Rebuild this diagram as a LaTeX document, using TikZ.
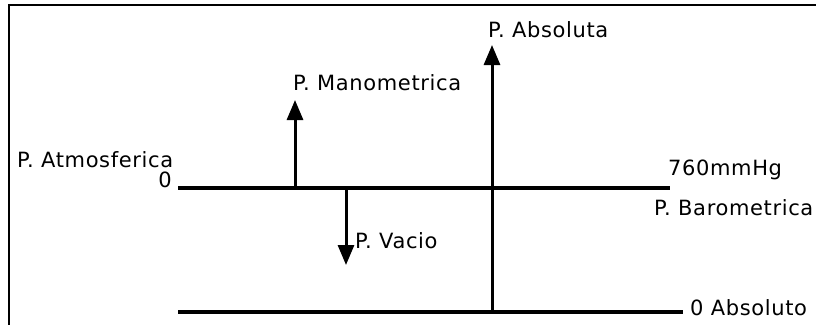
\documentclass[tikz,border=0pt]{standalone}
\usepackage{fontspec}
\setmainfont[LetterSpace=3]{DejaVu Sans}
\usetikzlibrary{arrows.meta}

\begin{document}
\begin{tikzpicture}[x=1pt,y=-1pt,
    lbl/.style={inner sep=0pt,anchor=base west,font=\fontsize{21}{25}\selectfont},
    linea/.style={line width=3.2pt},
    flecha/.style={line width=3pt,-{Triangle[width=16pt,length=20pt]}}]
  \useasboundingbox (0,0) rectangle (816,324);

  % marco (solo lados izquierdo y superior)
  \draw[line width=1.8pt] (9,330) -- (9,5) -- (820,5);

  % nivel atmosferico y cero absoluto
  \coordinate (A0) at (178,188);
  \coordinate (A1) at (670,188);
  \coordinate (B0) at (178,312);
  \coordinate (B1) at (683,312);

  % flechas de presion
  \coordinate (M0) at (295,188); % manometrica
  \coordinate (M1) at (295,100);
  \coordinate (V0) at (346,188); % vacio
  \coordinate (V1) at (346,265);
  \coordinate (P0) at (492,312); % absoluta
  \coordinate (P1) at (492,45);

  \draw[linea] (A0) -- (A1);
  \draw[linea] (B0) -- (B1);
  \draw[flecha] (M0) -- (M1);
  \draw[flecha] (V0) -- (V1);
  \draw[flecha] (P0) -- (P1);

  \node[lbl] (atm) at (17,167) {P. Atmosferica};
  \node[lbl,anchor=base east] (cero) at (172,187) {0};
  \node[lbl] (man) at (293,90) {P. Manometrica};
  \node[lbl] (abs) at (488,37) {P. Absoluta};
  \node[lbl] (vac) at (355,248) {P. Vacio};
  \node[lbl] (mmhg) at (668,175) {760mmHg};
  \node[lbl] (bar) at (654,215) {P. Barometrica};
  \node[lbl] (cabs) at (690,315) {0 Absoluto};
\end{tikzpicture}
\end{document}
